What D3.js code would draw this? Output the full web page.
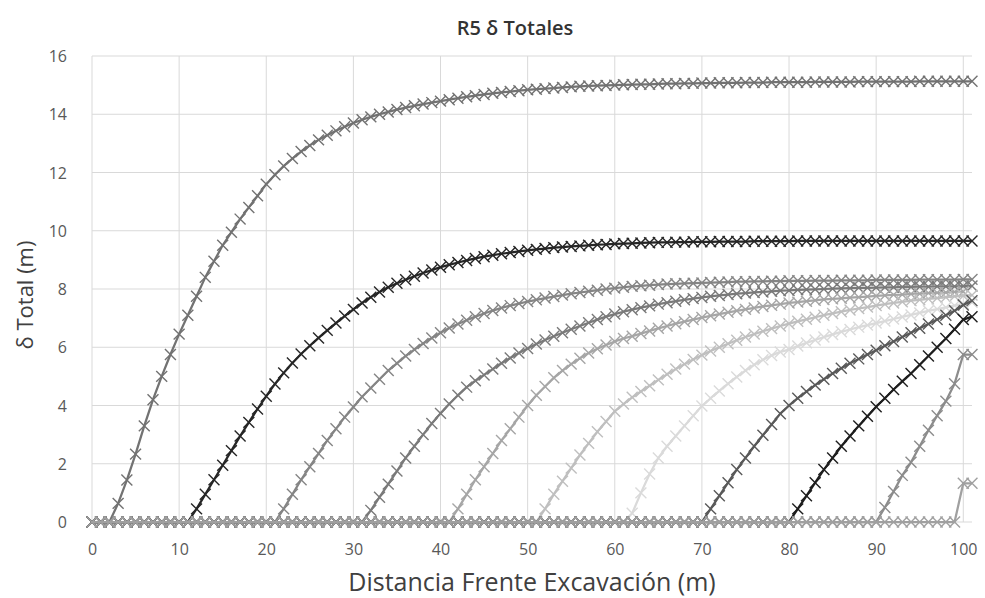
<!DOCTYPE html>
<html>
<head>
<meta charset="utf-8">
<script src="https://cdn.jsdelivr.net/npm/d3@7"></script>
<style>
  body { margin: 0; background: #fff; }
  svg { display: block; font-family: "Open Sans", "Noto Sans", sans-serif; }
</style>
</head>
<body>
<div id="chart"></div>
<script>
// tick labels
var xTicks = [0, 10, 20, 30, 40, 50, 60, 70, 80, 90, 100];
var yTicks = [0, 2, 4, 6, 8, 10, 12, 14, 16];

// each series is 0 up to its start distance, then these readings (1 m apart, up to 101 m)
var xStart = [3, 12, 22, 32, 42, 52, 62, 71, 81, 91, 100];

var rise1 = [0.64,1.44,2.33,3.3,4.2,5.0,5.75,6.45,7.1,7.75,8.4,8.95,9.5,9.95,10.4,10.8,11.2,11.6,
  11.92,12.22,12.48,12.72,12.93,13.12,13.28,13.43,13.57,13.7,13.81,13.91,14.0,14.08,14.16,14.23,14.29,14.35,14.4,14.45,
  14.5,14.55,14.6,14.64,14.68,14.72,14.75,14.78,14.81,14.84,14.86,14.88,14.9,14.92,14.94,14.96,14.97,14.98,14.99,15.0,
  15.01,15.02,15.03,15.03,15.04,15.05,15.05,15.06,15.06,15.07,15.07,15.08,15.08,15.08,15.09,15.09,15.09,15.1,15.1,15.1,
  15.1,15.1,15.11,15.11,15.11,15.11,15.11,15.12,15.12,15.12,15.12,15.12,15.12,15.12,15.13,15.13,15.13,15.13,15.13,15.13,15.13];
var rise2 = [0.45,0.95,1.45,1.95,2.45,2.95,3.42,3.88,4.32,
  4.74,5.12,5.46,5.77,6.05,6.32,6.58,6.83,7.07,7.3,7.52,7.72,7.9,8.06,8.2,8.32,8.44,8.55,8.65,8.75,
  8.83,8.91,8.98,9.05,9.11,9.16,9.21,9.25,9.29,9.33,9.36,9.39,9.42,9.44,9.46,9.48,9.5,9.52,9.53,9.55,
  9.56,9.57,9.58,9.59,9.6,9.6,9.61,9.61,9.62,9.62,9.62,9.63,9.63,9.63,9.63,9.64,9.64,9.64,9.64,9.64,
  9.65,9.65,9.65,9.65,9.65,9.65,9.65,9.65,9.65,9.65,9.65,9.65,9.65,9.65,9.65,9.65,9.65,9.65,9.65,9.65,9.65];
var rise3 = [0.45,0.95,1.45,1.9,2.35,2.8,3.2,3.6,3.95,4.3,4.6,4.9,5.2,5.45,5.7,5.92,6.13,6.32,6.5,
  6.66,6.8,6.93,7.05,7.16,7.26,7.35,7.43,7.5,7.57,7.63,7.69,7.74,7.79,7.84,7.88,7.92,7.96,8.0,8.03,
  8.06,8.09,8.11,8.13,8.15,8.17,8.18,8.19,8.2,8.21,8.22,8.23,8.24,8.25,8.25,8.26,8.26,8.27,8.27,8.28,
  8.28,8.28,8.29,8.29,8.29,8.3,8.3,8.3,8.3,8.31,8.31,8.31,8.31,8.31,8.32,8.32,8.32,8.32,8.32,8.33,8.33];
var rise4 = [0.4,0.85,1.3,1.75,2.2,2.6,3.0,3.38,3.73,4.05,4.35,4.63,4.85,5.05,5.25,5.45,5.63,5.8,5.96,
  6.11,6.25,6.38,6.5,6.62,6.73,6.84,6.95,7.05,7.14,7.22,7.29,7.36,7.42,7.48,7.53,7.58,7.63,7.67,7.71,
  7.75,7.78,7.81,7.84,7.86,7.88,7.9,7.92,7.94,7.95,7.97,7.98,7.99,8.0,8.01,8.02,8.03,8.04,8.04,8.05,
  8.06,8.06,8.07,8.07,8.08,8.08,8.09,8.09,8.09,8.1,8.1];
var rise5 = [0.45,0.95,1.45,1.9,2.35,2.8,3.2,3.6,4.0,4.35,4.65,4.95,5.2,5.42,5.62,5.8,5.95,6.08,
  6.2,6.3,6.38,6.47,6.56,6.65,6.73,6.81,6.88,6.95,7.02,7.08,7.14,7.2,7.25,7.3,7.35,7.4,7.44,7.48,
  7.52,7.55,7.58,7.61,7.64,7.66,7.68,7.7,7.72,7.74,7.76,7.78,7.8,7.81,7.83,7.84,7.86,7.87,7.88,7.9,7.91];
var rise6 = [0.45,0.95,1.4,1.85,2.3,2.7,3.1,3.45,3.8,4.05,4.28,4.48,4.68,4.88,5.07,5.25,5.42,5.58,5.73,
  5.87,6.0,6.12,6.24,6.35,6.45,6.55,6.64,6.73,6.81,6.89,6.96,7.03,7.1,7.16,7.22,7.28,7.33,7.38,7.43,
  7.48,7.52,7.56,7.6,7.63,7.66,7.69,7.72,7.75,7.77,7.79];
var rise7 = [0.3,1.0,1.65,2.2,2.6,2.95,3.3,3.65,3.98,4.25,4.5,4.75,4.98,5.2,5.4,5.57,5.72,5.84,5.92,
  6.04,6.15,6.25,6.35,6.44,6.53,6.61,6.69,6.76,6.83,6.9,6.97,7.04,7.11,7.18,7.25,7.31,7.37,7.43,7.49,7.54];
var rise8 = [0.45,0.9,1.35,1.8,2.2,2.6,2.98,3.35,3.72,4.0,4.25,4.48,4.7,4.9,5.1,5.28,5.45,5.6,5.75,5.9,
  6.05,6.2,6.35,6.5,6.65,6.8,6.95,7.1,7.25,7.45,7.6];
var rise9 = [0.45,0.9,1.35,1.8,2.2,2.6,2.95,3.3,3.63,3.96,4.25,4.55,4.83,5.1,5.4,5.7,6.0,6.3,6.62,6.95,7.05];
var rise10 = [0.5,1.05,1.6,2.05,2.6,3.15,3.65,4.15,4.75,5.75,5.75];
var rise11 = [1.33,1.33];

var rises = [rise1, rise2, rise3, rise4, rise5, rise6, rise7, rise8, rise9, rise10, rise11];
var seriesColors = ["#727272", "#262626", "#858585", "#7a7a7a", "#a6a6a6", "#bfbfbf",
  "#dadada", "#595959", "#1e1e1e", "#8c8c8c", "#a0a0a0"];

var width = 985, height = 598;
var margin = {top: 56, right: 13, bottom: 76, left: 92};

var svg = d3.select("#chart").append("svg")
  .attr("width", width)
  .attr("height", height);

var x = d3.scaleLinear().domain([0, 101]).range([margin.left, width - margin.right]);
var y = d3.scaleLinear().domain([0, 16]).range([height - margin.bottom, margin.top]);

// gridlines
svg.append("g").selectAll("line.h")
  .data(yTicks).enter().append("line")
  .attr("x1", x(0)).attr("x2", x(101))
  .attr("y1", function(d) { return y(d); }).attr("y2", function(d) { return y(d); })
  .attr("stroke", "#d9d9d9").attr("stroke-width", 1);

svg.append("g").selectAll("line.v")
  .data(xTicks).enter().append("line")
  .attr("x1", function(d) { return x(d); }).attr("x2", function(d) { return x(d); })
  .attr("y1", y(0)).attr("y2", y(16))
  .attr("stroke", "#d9d9d9").attr("stroke-width", 1);

// axes (labels only)
var xAxis = svg.append("g")
  .attr("transform", "translate(0," + (y(0) + 27) + ")")
  .call(d3.axisBottom(x).tickValues(xTicks).tickSize(0));
var yAxis = svg.append("g")
  .attr("transform", "translate(" + (x(0) - 22) + ",0)")
  .call(d3.axisLeft(y).tickValues(yTicks).tickSize(0));
[xAxis, yAxis].forEach(function(a) {
  a.select(".domain").remove();
  a.selectAll("text").attr("fill", "#595959").style("font-size", "16px")
    .style("font-family", "'Open Sans', sans-serif");
});
xAxis.selectAll("text").attr("dy", "0.35em").attr("y", 0);
yAxis.selectAll("text").attr("dy", "0.35em");

// build full series: zeros before start, then readings
var series = rises.map(function(r, i) {
  var pts = [];
  for (var k = 0; k < xStart[i]; k++) pts.push({x: k, v: 0});
  r.forEach(function(v, j) { pts.push({x: xStart[i] + j, v: v}); });
  return pts;
});

var line = d3.line()
  .x(function(d) { return x(d.x); })
  .y(function(d) { return y(d.v); });

var marker = d3.symbol().type(d3.symbolX).size(80);

series.forEach(function(pts, i) {
  var g = svg.append("g");
  g.append("path")
    .datum(pts)
    .attr("d", line)
    .attr("fill", "none")
    .attr("stroke", seriesColors[i])
    .attr("stroke-width", 2.25)
    .attr("stroke-linejoin", "round");
  g.selectAll("path.m")
    .data(pts).enter().append("path")
    .attr("class", "m")
    .attr("d", marker)
    .attr("transform", function(d) { return "translate(" + x(d.x) + "," + y(d.v) + ")"; })
    .attr("fill", "none")
    .attr("stroke", seriesColors[i])
    .attr("stroke-width", 1.4);
});

// titles
svg.append("text")
  .attr("x", 515).attr("y", 35)
  .attr("text-anchor", "middle")
  .style("font-size", "20px").style("font-weight", "600")
  .attr("fill", "#333")
  .text("R5 δ Totales");

svg.append("text")
  .attr("x", 532).attr("y", 591)
  .attr("text-anchor", "middle")
  .style("font-size", "25px")
  .attr("fill", "#404040")
  .text("Distancia Frente Excavación (m)");

svg.append("text")
  .attr("transform", "translate(33,295) rotate(-90)")
  .attr("text-anchor", "middle")
  .style("font-size", "22px")
  .attr("fill", "#404040")
  .text("δ Total (m)");
</script>
</body>
</html>
